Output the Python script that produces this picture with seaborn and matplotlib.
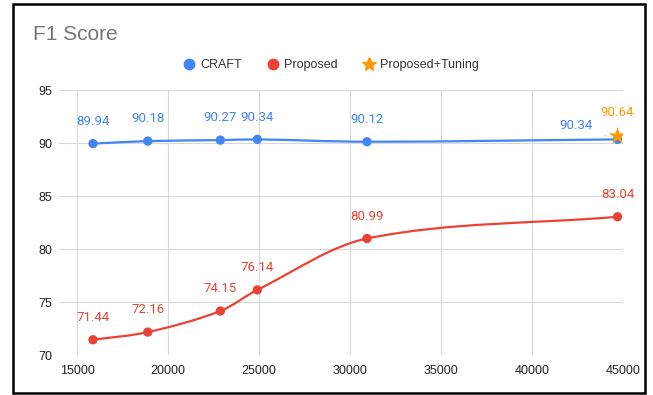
import numpy as np
import pandas as pd
import matplotlib.pyplot as plt
import seaborn as sns
from matplotlib.path import Path
from matplotlib.patches import PathPatch, Rectangle
from matplotlib.lines import Line2D

# data
craft_x = [15870, 18880, 22870, 24900, 30930, 44700]
craft_y = [89.94, 90.18, 90.27, 90.34, 90.12, 90.34]
prop_x = [15870, 18880, 22870, 24900, 30930, 44700]
prop_y = [71.44, 72.16, 74.15, 76.14, 80.99, 83.04]
tune_x = [44700]
tune_y = [90.64]

BLUE = '#4285F4'
RED = '#EA4335'
ORANGE = '#FF9900'

sns.set_theme(style='white')
plt.rcParams['font.family'] = ['Liberation Sans', 'DejaVu Sans']

fig = plt.figure(figsize=(6.53, 3.95), dpi=100)
ax = fig.add_axes([59 / 653, 1 - 355 / 395, (623 - 59) / 653, (355 - 90) / 395])


def smooth_path(xs, ys):
    # cubic bezier through the points (hermite tangents), drawn by matplotlib
    xs = np.asarray(xs, float)
    ys = np.asarray(ys, float)
    n = len(xs)
    m = np.zeros(n)
    for i in range(n):
        if i == 0:
            m[i] = (ys[1] - ys[0]) / (xs[1] - xs[0])
        elif i == n - 1:
            m[i] = (ys[-1] - ys[-2]) / (xs[-1] - xs[-2])
        else:
            m[i] = (ys[i + 1] - ys[i - 1]) / (xs[i + 1] - xs[i - 1])
    verts = [(xs[0], ys[0])]
    codes = [Path.MOVETO]
    for i in range(n - 1):
        h = xs[i + 1] - xs[i]
        verts += [(xs[i] + h / 3, ys[i] + m[i] * h / 3),
                  (xs[i + 1] - h / 3, ys[i + 1] - m[i + 1] * h / 3),
                  (xs[i + 1], ys[i + 1])]
        codes += [Path.CURVE4] * 3
    return Path(verts, codes)


ax.add_patch(PathPatch(smooth_path(craft_x, craft_y), fill=False, edgecolor=BLUE, lw=1.6, zorder=3))
ax.add_patch(PathPatch(smooth_path(prop_x, prop_y), fill=False, edgecolor=RED, lw=1.6, zorder=3))

df_c = pd.DataFrame({'x': craft_x, 'y': craft_y})
df_p = pd.DataFrame({'x': prop_x, 'y': prop_y})
df_t = pd.DataFrame({'x': tune_x, 'y': tune_y})
sns.scatterplot(data=df_c, x='x', y='y', color=BLUE, s=45, edgecolor='none', ax=ax, zorder=4)
sns.scatterplot(data=df_p, x='x', y='y', color=RED, s=45, edgecolor='none', ax=ax, zorder=4)
sns.scatterplot(data=df_t, x='x', y='y', color=ORANGE, marker='*', s=170, edgecolor='none', ax=ax, zorder=5)

lead = dict(arrowstyle='-', color='#e8e8e8', lw=0.8, shrinkA=6, shrinkB=4)


def label(x, y, text, color, dx=0, dy=16):
    ax.annotate(text, (x, y), xytext=(dx, dy), textcoords='offset points',
                ha='center', va='center', color=color, fontsize=9.5,
                family=['Roboto', 'DejaVu Sans'], arrowprops=lead, zorder=2)


for i, (x, y) in enumerate(zip(craft_x, craft_y)):
    if i == len(craft_x) - 1:
        label(x, y, f'{y:.2f}', BLUE, dx=-30, dy=10)
    else:
        label(x, y, f'{y:.2f}', BLUE)
for x, y in zip(prop_x, prop_y):
    label(x, y, f'{y:.2f}', RED)
for x, y in zip(tune_x, tune_y):
    label(x, y, f'{y:.2f}', ORANGE, dy=17)

ax.set_xlim(14000, 45000)
ax.set_ylim(70, 95)
ax.set_xticks([15000, 20000, 25000, 30000, 35000, 40000, 45000])
ax.set_yticks([70, 75, 80, 85, 90, 95])
ax.grid(True, color='#d9d9d9', lw=0.8)
ax.set_axisbelow(True)
for s in ax.spines.values():
    s.set_visible(False)
ax.tick_params(axis='both', length=0, labelsize=9, labelcolor='#222222')
ax.tick_params(axis='x', pad=7)
ax.tick_params(axis='y', pad=5)
ax.set_xlabel('')
ax.set_ylabel('')

fig.text(33 / 653, 1 - 34 / 395, 'F1 Score', fontsize=15, color='#757575', va='center', ha='left')

handles = [
    Line2D([], [], marker='o', ls='none', color=BLUE, ms=7.5, label='CRAFT'),
    Line2D([], [], marker='o', ls='none', color=RED, ms=7.5, label='Proposed'),
    Line2D([], [], marker='*', ls='none', color=ORANGE, ms=10, label='Proposed+Tuning'),
]
fig.legend(handles=handles, loc='center', bbox_to_anchor=(331 / 653, 1 - 65 / 395), ncol=3,
           frameon=False, fontsize=9, labelcolor='#333333', handletextpad=0.4,
           columnspacing=2.0, handlelength=1.0)

fig.patches.append(Rectangle((13 / 653, 2 / 395), (645 - 13) / 653, (391 - 2) / 395,
                             transform=fig.transFigure, fill=False, edgecolor='black', lw=1.8))

fig.savefig('out.png', dpi=100)
